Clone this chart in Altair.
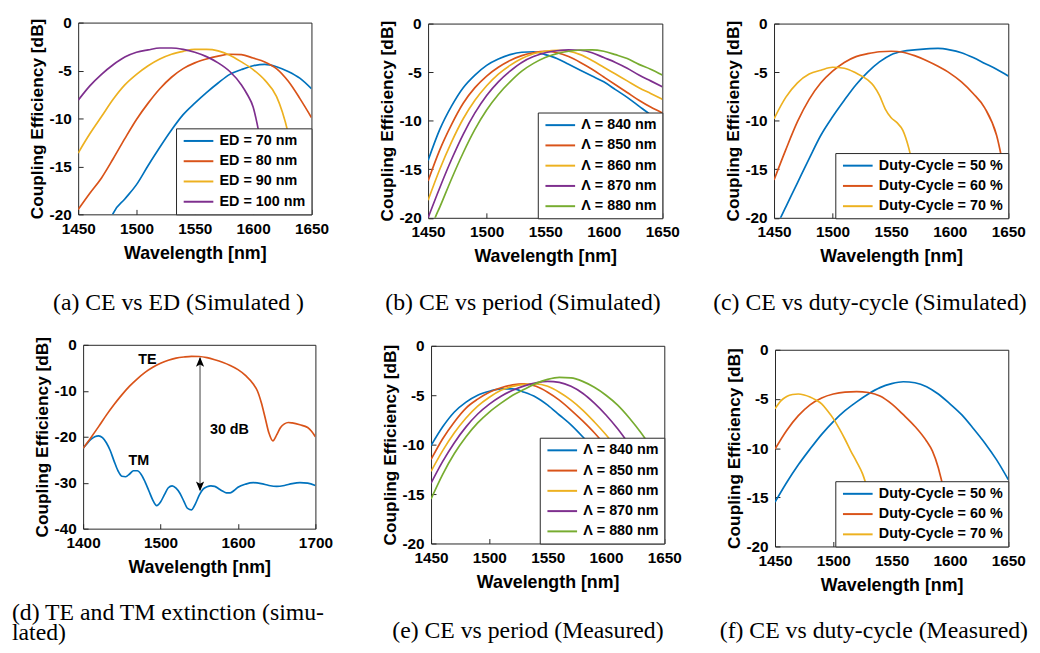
import altair as alt
import pandas as pd

BLUE, ORANGE, YELLOW, PURPLE, GREEN = "#0072BD", "#D95319", "#EDB120", "#7E2F8E", "#77AC30"
FRAME = "#262626"
SANS = "Liberation Sans"
SERIF = "Liberation Serif"

# ---------------- (a) CE vs ED (simulated) ----------------
a_labels = ["ED = 70 nm", "ED = 80 nm", "ED = 90 nm", "ED = 100 nm"]
a_wl_70 = [1478, 1480, 1490, 1500, 1510, 1520, 1530, 1540, 1550, 1560, 1570, 1580, 1590, 1600, 1610, 1620, 1630, 1640, 1650]
a_ce_70 = [-20.5, -19.9, -18.4, -16.9, -14.9, -13.0, -11.2, -9.6, -8.4, -7.3, -6.3, -5.4, -4.9, -4.5, -4.35, -4.6, -5.1, -5.8, -6.9]
a_wl_80 = [1450, 1460, 1470, 1480, 1490, 1500, 1510, 1520, 1530, 1540, 1550, 1560, 1570, 1580, 1590, 1600, 1610, 1620, 1630, 1640, 1650]
a_ce_80 = [-19.5, -17.8, -16.2, -14.2, -12.1, -10.1, -8.4, -6.9, -5.7, -4.8, -4.2, -3.8, -3.5, -3.3, -3.35, -3.7, -4.1, -4.8, -6.1, -7.9, -9.9]
a_wl_90 = [1450, 1460, 1470, 1480, 1490, 1500, 1510, 1520, 1530, 1540, 1550, 1560, 1570, 1580, 1590, 1600, 1610, 1620, 1625, 1630, 1635, 1640, 1645]
a_ce_90 = [-13.6, -11.6, -9.8, -8.0, -6.5, -5.4, -4.5, -3.8, -3.3, -3.0, -2.8, -2.8, -2.95, -3.4, -4.1, -4.9, -6.0, -7.7, -9.3, -11.5, -14.5, -18.0, -21.0]
a_wl_100 = [1450, 1460, 1470, 1480, 1490, 1500, 1510, 1520, 1530, 1540, 1550, 1560, 1570, 1580, 1590, 1595, 1600, 1605, 1610, 1615, 1620]
a_ce_100 = [-8.1, -6.6, -5.4, -4.4, -3.6, -3.1, -2.85, -2.65, -2.65, -2.8, -3.1, -3.55, -4.2, -5.1, -6.5, -7.5, -8.8, -11.5, -15.0, -19.0, -23.0]

# ---------------- (b) CE vs period (simulated) ----------------
b_labels = ["\u039b = 840 nm", "\u039b = 850 nm", "\u039b = 860 nm", "\u039b = 870 nm", "\u039b = 880 nm"]
b_wl = [1450, 1460, 1470, 1480, 1490, 1500, 1510, 1520, 1530, 1540, 1550, 1560, 1570, 1580, 1590, 1600, 1610, 1620, 1630, 1640, 1650]
b_ce_840 = [-14.1, -10.9, -8.5, -6.6, -5.3, -4.3, -3.65, -3.2, -2.95, -2.9, -3.2, -3.6, -4.2, -4.8, -5.4, -6.0, -6.8, -7.6, -8.5, -9.4, -10.4]
b_ce_850 = [-16.2, -13.0, -10.4, -8.2, -6.6, -5.4, -4.5, -3.8, -3.3, -3.0, -2.85, -3.0, -3.4, -4.0, -4.7, -5.5, -6.3, -7.1, -7.9, -8.6, -9.2]
b_ce_860 = [-18.2, -15.0, -12.2, -9.8, -7.9, -6.4, -5.2, -4.3, -3.6, -3.1, -2.85, -2.75, -2.85, -3.2, -3.8, -4.5, -5.2, -5.9, -6.6, -7.2, -7.8]
b_ce_870 = [-20.0, -16.9, -14.0, -11.4, -9.2, -7.4, -6.0, -4.9, -4.0, -3.4, -3.0, -2.8, -2.7, -2.75, -3.0, -3.5, -4.0, -4.6, -5.3, -5.9, -6.5]
b_wl_880 = [1450, 1456, 1460, 1470, 1480, 1490, 1500, 1510, 1520, 1530, 1540, 1550, 1560, 1570, 1580, 1590, 1600, 1610, 1620, 1630, 1640, 1650]
b_ce_880 = [-22.2, -20.0, -18.9, -16.0, -13.3, -10.9, -8.9, -7.3, -6.0, -4.9, -4.1, -3.5, -3.1, -2.85, -2.72, -2.7, -2.85, -3.2, -3.6, -4.2, -4.7, -5.3]

# ---------------- (c) CE vs duty-cycle (simulated) ----------------
c_labels = ["Duty-Cycle = 50 %", "Duty-Cycle = 60 %", "Duty-Cycle = 70 %"]
c_wl = [1450, 1460, 1470, 1480, 1490, 1500, 1510, 1520, 1530, 1540, 1550, 1560, 1570, 1580, 1590, 1600, 1610, 1620, 1630, 1640, 1650]
c_ce_50 = [-21.4, -18.9, -16.4, -13.9, -11.5, -9.6, -7.9, -6.3, -5.0, -3.95, -3.2, -2.85, -2.7, -2.6, -2.55, -2.7, -3.0, -3.5, -4.1, -4.7, -5.4]
c_ce_60 = [-16.1, -13.0, -10.1, -7.8, -6.1, -4.9, -4.0, -3.4, -3.1, -2.9, -2.85, -2.95, -3.3, -3.8, -4.4, -5.1, -6.0, -7.2, -8.7, -11.5, -17.5]
c_wl_70 = [1450, 1460, 1470, 1480, 1490, 1500, 1510, 1520, 1530, 1535, 1540, 1545, 1550, 1555, 1560, 1565, 1570, 1575, 1580]
c_ce_70 = [-9.8, -7.6, -6.1, -5.2, -4.8, -4.5, -4.6, -5.1, -5.8, -6.4, -7.4, -8.8, -9.7, -10.2, -11.0, -12.8, -15.5, -19.0, -23.0]

# ---------------- (d) TE / TM extinction (simulated) ----------------
d_wl_te = [1400, 1410, 1420, 1430, 1440, 1450, 1460, 1470, 1480, 1490, 1500, 1510, 1520, 1530, 1540, 1550, 1560, 1570, 1580, 1590,
           1600, 1610, 1620, 1625, 1630, 1635, 1640, 1645, 1650, 1655, 1660, 1665, 1670, 1680, 1690, 1695, 1700]
d_ce_te = [-22.5, -20.2, -17.8, -15.3, -13.0, -10.9, -9.0, -7.4, -6.0, -4.9, -4.0, -3.35, -2.9, -2.65, -2.5, -2.55, -2.8, -3.25, -3.8, -4.5,
           -5.4, -6.7, -8.6, -10.0, -12.5, -15.8, -19.2, -20.9, -19.6, -18.0, -17.2, -16.9, -17.0, -17.4, -18.0, -18.8, -20.0]
d_wl_tm = [1400, 1405, 1410, 1415, 1420, 1425, 1430, 1435, 1440, 1445, 1450, 1455, 1460, 1465, 1470, 1475, 1480, 1485, 1490, 1495,
           1500, 1505, 1510, 1515, 1520, 1525, 1530, 1535, 1540, 1545, 1550, 1555, 1560, 1565, 1570, 1575, 1580, 1585, 1590, 1595,
           1600, 1610, 1620, 1630, 1640, 1650, 1660, 1670, 1680, 1690, 1700]
d_ce_tm = [-22.5, -21.5, -20.6, -20.0, -19.8, -20.2, -21.3, -23.0, -25.3, -27.4, -28.6, -28.7, -28.1, -27.4, -27.4, -28.2, -29.8, -31.8, -33.8, -35.0,
           -34.2, -32.6, -31.1, -30.7, -31.2, -32.3, -34.0, -35.6, -35.9, -34.6, -32.7, -31.4, -30.9, -30.7, -30.8, -31.3, -31.8, -32.2, -32.2, -31.7,
           -31.0, -30.3, -30.0, -30.2, -30.6, -30.8, -30.6, -30.2, -30.0, -30.1, -30.6]
d_arrow_wl = [1551]
d_arrow_top = [-2.8]
d_arrow_bottom = [-31.6]
d_head_up_ce = [-3.9]
d_head_down_ce = [-30.6]
d_note_wl = [1483, 1472, 1589]
d_note_ce = [-3.4, -25.3, -18.5]
d_note_text = ["TE", "TM", "30 dB"]

# ---------------- (e) CE vs period (measured) ----------------
e_labels = b_labels
e_wl_840 = [1450, 1460, 1470, 1480, 1490, 1500, 1510, 1520, 1530, 1540, 1550, 1560, 1570, 1580, 1590, 1600]
e_ce_840 = [-10.1, -8.2, -6.7, -5.7, -5.0, -4.6, -4.35, -4.35, -4.7, -5.2, -6.0, -7.0, -8.0, -9.2, -10.5, -12.0]
e_wl_850 = [1450, 1460, 1470, 1480, 1490, 1500, 1510, 1520, 1530, 1540, 1550, 1560, 1570, 1580, 1590, 1600, 1610]
e_ce_850 = [-11.5, -9.4, -7.7, -6.3, -5.4, -4.7, -4.25, -3.95, -3.85, -4.1, -4.7, -5.5, -6.5, -7.6, -8.8, -10.2, -12.0]
e_wl_860 = [1450, 1460, 1470, 1480, 1490, 1500, 1510, 1520, 1530, 1540, 1550, 1560, 1570, 1580, 1590, 1600, 1610]
e_ce_860 = [-12.7, -10.6, -8.8, -7.3, -6.1, -5.2, -4.5, -4.1, -3.9, -3.85, -4.1, -4.7, -5.5, -6.5, -7.7, -9.0, -10.5]
e_wl_870 = [1450, 1460, 1470, 1480, 1490, 1500, 1510, 1520, 1530, 1540, 1550, 1560, 1570, 1580, 1590, 1600, 1610, 1620]
e_ce_870 = [-13.9, -11.7, -9.8, -8.2, -6.9, -5.9, -5.1, -4.5, -4.05, -3.75, -3.6, -3.7, -4.1, -4.8, -5.8, -7.0, -8.4, -10.0]
e_wl_880 = [1450, 1460, 1470, 1480, 1490, 1500, 1510, 1520, 1530, 1540, 1550, 1560, 1570, 1580, 1590, 1600, 1610, 1620, 1630, 1640]
e_ce_880 = [-15.5, -13.0, -10.9, -9.2, -7.8, -6.7, -5.8, -5.0, -4.4, -3.8, -3.4, -3.2, -3.25, -3.6, -4.2, -5.0, -6.0, -7.3, -8.8, -10.5]

# ---------------- (f) CE vs duty-cycle (measured) ----------------
f_labels = c_labels
f_wl_50 = [1450, 1460, 1470, 1480, 1490, 1500, 1510, 1520, 1530, 1540, 1550, 1560, 1570, 1580, 1590, 1600, 1610, 1620, 1630, 1640, 1650]
f_ce_50 = [-15.5, -13.5, -11.7, -10.1, -8.6, -7.3, -6.2, -5.3, -4.5, -3.85, -3.45, -3.25, -3.35, -3.75, -4.5, -5.5, -6.6, -8.0, -9.5, -11.2, -13.2]
f_wl_60 = [1450, 1460, 1470, 1480, 1490, 1500, 1510, 1520, 1530, 1540, 1550, 1560, 1570, 1580, 1585, 1590, 1595, 1600]
f_ce_60 = [-10.1, -8.2, -6.7, -5.6, -4.9, -4.5, -4.3, -4.25, -4.35, -4.7, -5.5, -6.6, -7.8, -9.3, -10.3, -12.0, -14.5, -18.0]
f_wl_70 = [1450, 1455, 1460, 1465, 1470, 1475, 1480, 1485, 1490, 1495, 1500, 1505, 1510, 1515, 1520, 1525, 1530, 1535, 1540]
f_ce_70 = [-6.0, -5.2, -4.75, -4.55, -4.5, -4.6, -4.8, -5.1, -5.5, -6.2, -7.0, -8.0, -9.1, -10.3, -11.4, -12.6, -14.5, -17.0, -20.0]

# axis ticks
x_ticks_std = [1450, 1500, 1550, 1600, 1650]
y_ticks_std = [-20, -15, -10, -5, 0]
x_ticks_d = [1400, 1500, 1600, 1700]
y_ticks_d = [-40, -30, -20, -10, 0]

captions = {
    "a": "(a) CE vs ED (Simulated )",
    "b": "(b) CE vs period (Simulated)",
    "c": "(c) CE vs duty-cycle (Simulated)",
    "d": ["(d) TE and TM extinction (simu-", "lated)"],
    "e": "(e) CE vs period (Measured)",
    "f": "(f) CE vs duty-cycle (Measured)",
}


def make_df(series):
    rows = []
    for label, wl, ce in series:
        rows += [{"wl": w, "ce": c, "s": label} for w, c in zip(wl, ce)]
    return pd.DataFrame(rows)


def x_enc(dom, ticks):
    return alt.X("wl:Q", scale=alt.Scale(domain=dom, nice=False, zero=False),
                 axis=alt.Axis(values=ticks, title="Wavelength [nm]", grid=False, domain=False,
                               ticks=True, tickSize=5, offset=-5, tickColor=FRAME, tickWidth=1,
                               labelExpr="'' + datum.value",
                               labelFont=SANS, labelFontSize=15.5, labelFontWeight="bold", labelColor="black",
                               labelPadding=7, labelFlush=False, labelOverlap=False,
                               titleFont=SANS, titleFontSize=18, titleFontWeight="bold",
                               titleColor="black", titlePadding=8))


def y_enc(dom, ticks):
    return alt.Y("ce:Q", scale=alt.Scale(domain=dom, nice=False, zero=False),
                 axis=alt.Axis(values=ticks, title="Coupling Efficiency [dB]", grid=False, domain=False,
                               ticks=True, tickSize=5, offset=-5, tickColor=FRAME, tickWidth=1,
                               labelExpr="datum.value < 0 ? '-' + abs(datum.value) : '' + datum.value",
                               labelFont=SANS, labelFontSize=15.5, labelFontWeight="bold", labelColor="black",
                               labelPadding=7, labelFlush=False, labelOverlap=False,
                               titleFont=SANS, titleFontSize=17.5, titleFontWeight="bold",
                               titleColor="black", titlePadding=3))


def spacer(x0, y0, x1):
    # invisible layout helper that fixes each panel's cell box in the grid
    return alt.Chart(pd.DataFrame({"k": [0]})).mark_rule(opacity=0).encode(
        x=alt.value(x0), x2=alt.value(x1), y=alt.value(y0), y2=alt.value(0))


def dummy():
    # empty 1x1 cell used as the grid's first row / column
    return alt.Chart(pd.DataFrame({"k": [0]})).mark_point(opacity=0, size=0).encode(
        x=alt.value(0), y=alt.value(0)
    ).properties(width=1, height=1, view=alt.ViewBackground(stroke="transparent"))


def legend():
    return alt.Legend(orient="bottom-right", offset=0, title=None, padding=5.5,
                      fillColor="white", strokeColor=FRAME,
                      symbolType="M-1,0H5", symbolSize=100, symbolStrokeWidth=2,
                      labelOffset=24, rowPadding=5.5, labelLimit=400,
                      labelFont=SANS, labelFontSize=14.5, labelFontWeight="bold", labelColor="black",
                      zindex=1)


def panel(df, labels, colors, xdom, xt, ydom, yt, w, h, caption, anchor, dx, off, sp,
          extras=(), show_legend=True):
    X = x_enc(xdom, xt)
    Y = y_enc(ydom, yt)
    lines = alt.Chart(df).mark_line(clip=True, strokeWidth=1.7, interpolate="monotone").encode(
        x=X, y=Y,
        color=alt.Color("s:N", scale=alt.Scale(domain=labels, range=colors),
                        legend=legend() if show_legend else None))
    layers = [lines] + [e(X, Y) for e in extras] + [spacer(*sp)]
    return alt.layer(*layers).properties(
        width=w, height=h,
        title=alt.TitleParams(text=caption, orient="bottom", anchor=anchor, frame="group",
                              dx=dx, offset=off, font=SERIF, fontSize=24, fontWeight="normal",
                              color="black", lineHeight=21))


# ---- build panels ----
df_a = make_df([(a_labels[0], a_wl_70, a_ce_70), (a_labels[1], a_wl_80, a_ce_80),
                (a_labels[2], a_wl_90, a_ce_90), (a_labels[3], a_wl_100, a_ce_100)])
df_b = make_df([(b_labels[0], b_wl, b_ce_840), (b_labels[1], b_wl, b_ce_850), (b_labels[2], b_wl, b_ce_860),
                (b_labels[3], b_wl, b_ce_870), (b_labels[4], b_wl_880, b_ce_880)])
df_c = make_df([(c_labels[0], c_wl, c_ce_50), (c_labels[1], c_wl, c_ce_60), (c_labels[2], c_wl_70, c_ce_70)])
df_d = make_df([("TM", d_wl_tm, d_ce_tm), ("TE", d_wl_te, d_ce_te)])
df_e = make_df([(e_labels[0], e_wl_840, e_ce_840), (e_labels[1], e_wl_850, e_ce_850), (e_labels[2], e_wl_860, e_ce_860),
                (e_labels[3], e_wl_870, e_ce_870), (e_labels[4], e_wl_880, e_ce_880)])
df_f = make_df([(f_labels[0], f_wl_50, f_ce_50), (f_labels[1], f_wl_60, f_ce_60), (f_labels[2], f_wl_70, f_ce_70)])

UP = "M0,-1L0.7,0.7L0,0.3L-0.7,0.7Z"
DOWN = "M0,1L0.7,-0.7L0,-0.3L-0.7,-0.7Z"


def d_shaft(X, Y):
    df = pd.DataFrame({"wl": d_arrow_wl, "ce": d_arrow_top, "ce2": d_arrow_bottom})
    return alt.Chart(df).mark_rule(color="#7f7f7f", strokeWidth=1.5).encode(x=X, y=Y, y2="ce2:Q")


def d_head_up(X, Y):
    df = pd.DataFrame({"wl": d_arrow_wl, "ce": d_head_up_ce})
    return alt.Chart(df).mark_point(shape=UP, filled=True, color="black", size=139, opacity=1).encode(x=X, y=Y)


def d_head_down(X, Y):
    df = pd.DataFrame({"wl": d_arrow_wl, "ce": d_head_down_ce})
    return alt.Chart(df).mark_point(shape=DOWN, filled=True, color="black", size=139, opacity=1).encode(x=X, y=Y)


def d_notes(X, Y):
    df = pd.DataFrame({"wl": d_note_wl, "ce": d_note_ce, "t": d_note_text})
    return alt.Chart(df).mark_text(font=SANS, fontSize=14.5, fontWeight="bold", color="black").encode(
        x=X, y=Y, text="t:N")


col5 = [BLUE, ORANGE, YELLOW, PURPLE, GREEN]
pa = panel(df_a, a_labels, col5[:4], [1450, 1650], x_ticks_std, [-20, 0], y_ticks_std,
           236, 194, captions["a"], "middle", -16.5, 29.7, (-67.5, -7, 283))
pb = panel(df_b, b_labels, col5, [1450, 1650], x_ticks_std, [-20, 0], y_ticks_std,
           237, 196.5, captions["b"], "middle", -22.5, 25.7, (-69, -8.5, 275))
pc = panel(df_c, c_labels, col5[:3], [1450, 1650], x_ticks_std, [-20, 0], y_ticks_std,
           237, 196.5, captions["c"], "middle", -21.5, 25.7, (-71, -8.5, 257))
pd_ = panel(df_d, ["TM", "TE"], [BLUE, ORANGE], [1400, 1700], x_ticks_d, [-40, 0], y_ticks_d,
            235, 186, captions["d"], "start", -72, 24.5, (-71.5, -27.8, 279),
            extras=(d_shaft, d_head_up, d_head_down, d_notes), show_legend=False)
pe = panel(df_e, e_labels, col5, [1450, 1650], x_ticks_std, [-20, 0], y_ticks_std,
           236, 200, captions["e"], "middle", -20, 27.7, (-67, -27.8, 277))
pf = panel(df_f, f_labels, col5[:3], [1450, 1650], x_ticks_std, [-20, 0], y_ticks_std,
           236, 199, captions["f"], "middle", -18, 24.7, (-69, -31.8, 259))

cells = [dummy(), dummy(), dummy(), dummy(),
         dummy(), pa, pb, pc,
         dummy(), pd_, pe, pf]

chart = alt.concat(*cells, columns=4, spacing=0, align="none").resolve_scale(
    color="independent", x="independent", y="independent"
).properties(padding=0).configure_view(stroke=FRAME, strokeWidth=1)

chart.save("out.html", embed_options={"renderer": "svg", "actions": False})
